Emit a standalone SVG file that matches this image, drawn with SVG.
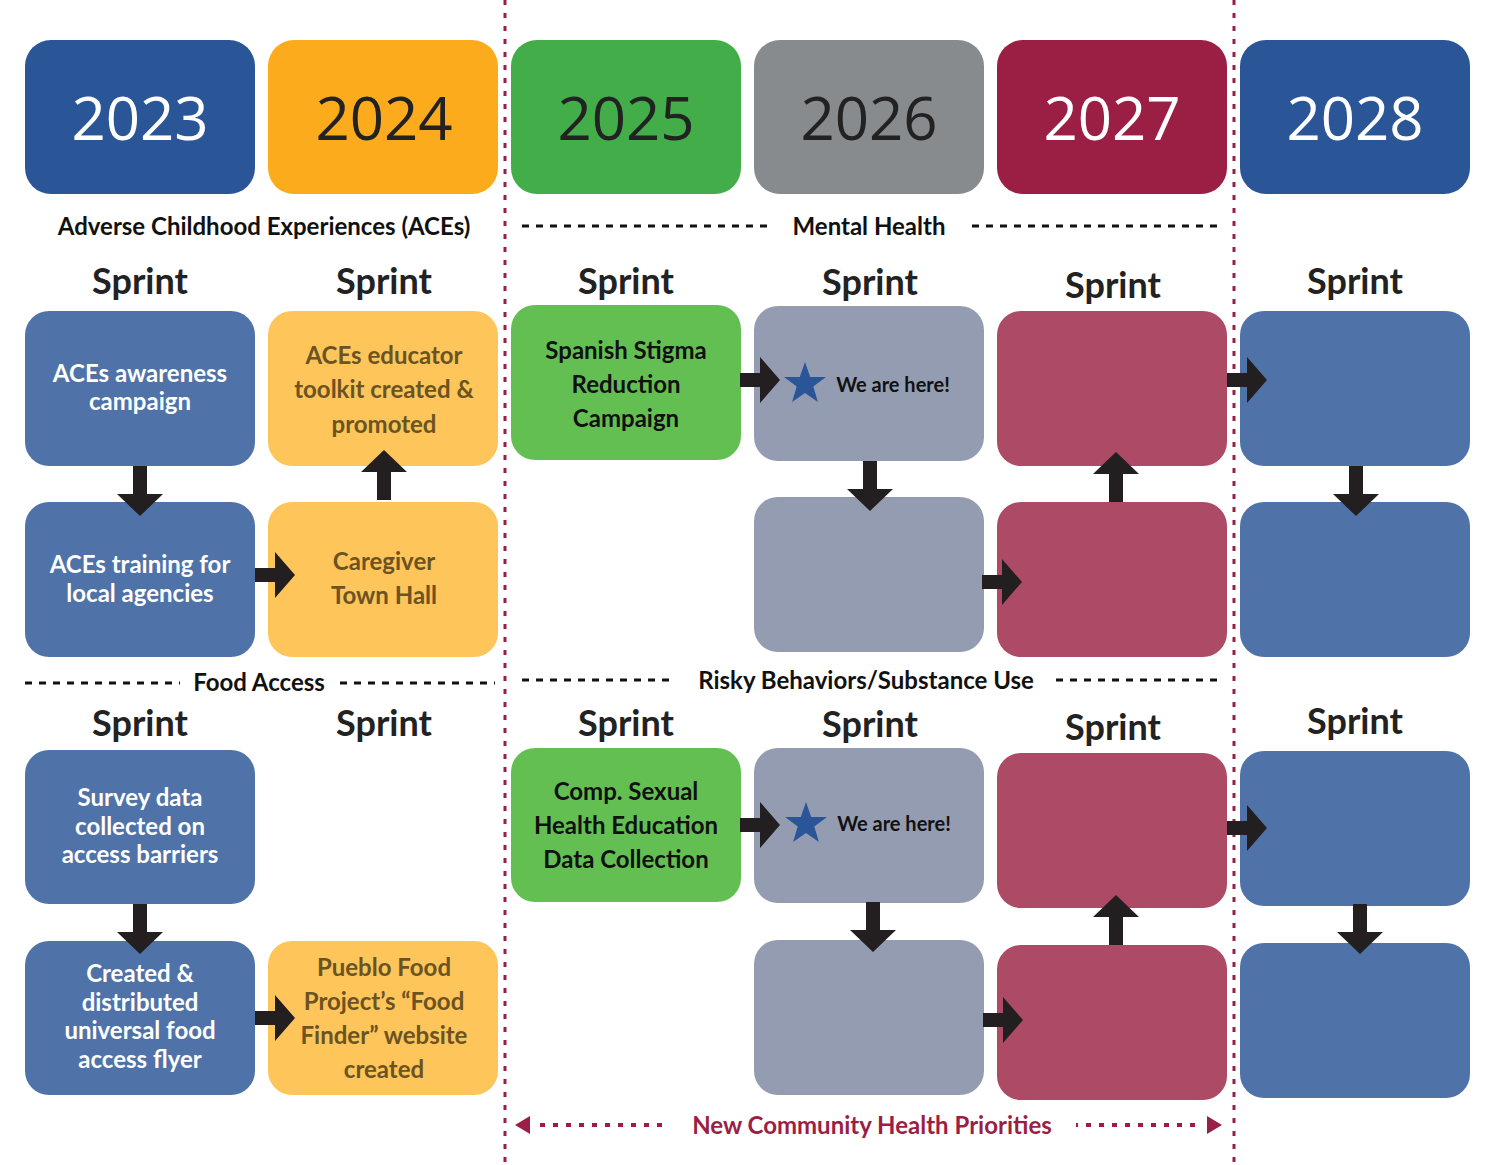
<svg xmlns="http://www.w3.org/2000/svg" width="1493" height="1165" viewBox="0 0 1493 1165">
<style>
text{font-family:Lato,"Open Sans",sans-serif;text-anchor:middle}
.yr{font-size:60px;font-family:"Open Sans",sans-serif}
.lbl{font-size:24px;font-weight:bold;fill:#111}
.sp{font-size:36px;font-weight:bold;fill:#222}
.bt{font-size:24px;font-weight:bold}
.w{fill:#fff}.y{fill:#6b5322}.k{fill:#111}
.dash{stroke:#111;stroke-width:3;stroke-dasharray:7 7;fill:none}
.vd{stroke:#9b1f44;stroke-width:3;stroke-dasharray:5 8;fill:none}
.bl{fill:#4f73a8}.ye{fill:#fdc55a}.gr{fill:#64bf53}.gy{fill:#949cb1}.rd{fill:#ad4a66}
.ar{fill:#231f20}
</style>
<defs>
<path id="ad" d="M-7,0 H7 V28 H23 L0,50 L-23,28 H-7 Z"/>
<path id="ar" d="M0,-7 V7 H20 V23 L40,0 L20,-23 V-7 Z"/>
<polygon id="star" points="0,-22 5.2,-7 21,-7 8.3,2.6 12.9,18 0,9 -12.9,18 -8.3,2.6 -21,-7 -5.2,-7"/>
</defs>
<rect width="1493" height="1165" fill="#fff"/>
<g id="years">
<rect x="25" y="40" width="230" height="154" rx="26" fill="#2a5597"/><text x="140" y="140" class="yr w">2023</text>
<rect x="268" y="40" width="230" height="154" rx="26" fill="#fbab1c"/><text x="384" y="140" class="yr" fill="#222">2024</text>
<rect x="511" y="40" width="230" height="154" rx="26" fill="#43ad4a"/><text x="626" y="140" class="yr" fill="#222">2025</text>
<rect x="754" y="40" width="230" height="154" rx="26" fill="#878b8d"/><text x="869" y="140" class="yr" fill="#222">2026</text>
<rect x="997" y="40" width="230" height="154" rx="26" fill="#9b1f44"/><text x="1112" y="140" class="yr w">2027</text>
<rect x="1240" y="40" width="230" height="154" rx="26" fill="#2a5597"/><text x="1355" y="140" class="yr w">2028</text>
</g>
<g id="labels">
<text x="264" y="235" class="lbl">Adverse Childhood Experiences (ACEs)</text>
<line x1="522" y1="226" x2="768" y2="226" class="dash"/>
<text x="869" y="235" class="lbl">Mental Health</text>
<line x1="972" y1="226" x2="1220" y2="226" class="dash"/>
<line x1="25" y1="683" x2="180" y2="683" class="dash"/>
<text x="259" y="691" class="lbl">Food Access</text>
<line x1="340" y1="683" x2="495" y2="683" class="dash"/>
<line x1="522" y1="680" x2="676" y2="680" class="dash"/>
<text x="866" y="689" class="lbl">Risky Behaviors/Substance Use</text>
<line x1="1056" y1="680" x2="1222" y2="680" class="dash"/>
<text x="140" y="294" class="sp">Sprint</text><text x="384" y="294" class="sp">Sprint</text><text x="626" y="294" class="sp">Sprint</text><text x="870" y="295" class="sp">Sprint</text><text x="1113" y="298" class="sp">Sprint</text><text x="1355" y="294" class="sp">Sprint</text>
<text x="140" y="736" class="sp">Sprint</text><text x="384" y="736" class="sp">Sprint</text><text x="626" y="736" class="sp">Sprint</text><text x="870" y="737" class="sp">Sprint</text><text x="1113" y="740" class="sp">Sprint</text><text x="1355" y="734" class="sp">Sprint</text>
<line x1="505" y1="0" x2="505" y2="1165" class="vd"/>
<line x1="1234" y1="0" x2="1234" y2="1165" class="vd"/>
<line x1="540" y1="1125" x2="1200" y2="1125" class="vd" stroke-dasharray="4 10" style="stroke-width:4"/>
<polygon points="515,1125 530,1116 530,1134" fill="#9b1f44"/>
<polygon points="1222,1125 1207,1116 1207,1134" fill="#9b1f44"/>
<rect x="668" y="1108" width="408" height="34" fill="#fff"/>
<text x="872" y="1134" class="lbl" fill="#9b1f44" style="fill:#9b1f44">New Community Health Priorities</text>
</g>
<g id="n1"><rect x="25" y="311" width="230" height="155" rx="24" class="bl"/><text x="140" y="382" class="bt w">ACEs awareness</text><text x="140" y="410" class="bt w">campaign</text></g>
<g id="n2"><rect x="268" y="311" width="230" height="155" rx="24" class="ye"/><text x="384" y="364" class="bt y">ACEs educator</text><text x="384" y="398" class="bt y">toolkit created &amp;</text><text x="384" y="433" class="bt y">promoted</text></g>
<g id="n3"><rect x="25" y="502" width="230" height="155" rx="24" class="bl"/><text x="140" y="573" class="bt w">ACEs training for</text><text x="140" y="602" class="bt w">local agencies</text></g>
<g id="n4"><rect x="268" y="502" width="230" height="155" rx="24" class="ye"/><text x="384" y="570" class="bt y">Caregiver</text><text x="384" y="604" class="bt y">Town Hall</text></g>
<g id="n5"><rect x="511" y="305" width="230" height="155" rx="24" class="gr"/><text x="626" y="359" class="bt k">Spanish Stigma</text><text x="626" y="393" class="bt k">Reduction</text><text x="626" y="427" class="bt k">Campaign</text></g>
<g id="n6"><rect x="754" y="306" width="230" height="155" rx="24" class="gy"/><use href="#star" x="805" y="384" fill="#2a5597"/><text x="893" y="392" class="k" style="font-size:20px;font-weight:bold">We are here!</text></g>
<g id="n7"><rect x="754" y="497" width="230" height="155" rx="24" class="gy"/></g>
<g id="n8"><rect x="997" y="311" width="230" height="155" rx="24" class="rd"/></g>
<g id="n9"><rect x="997" y="502" width="230" height="155" rx="24" class="rd"/></g>
<g id="n10"><rect x="1240" y="311" width="230" height="155" rx="24" class="bl"/></g>
<g id="n11"><rect x="1240" y="502" width="230" height="155" rx="24" class="bl"/></g>
<g id="n12"><rect x="25" y="750" width="230" height="154" rx="24" class="bl"/><text x="140" y="806" class="bt w">Survey data</text><text x="140" y="835" class="bt w">collected on</text><text x="140" y="863" class="bt w">access barriers</text></g>
<g id="n13"><rect x="25" y="941" width="230" height="154" rx="24" class="bl"/><text x="140" y="982" class="bt w">Created &amp;</text><text x="140" y="1011" class="bt w">distributed</text><text x="140" y="1039" class="bt w">universal food</text><text x="140" y="1068" class="bt w">access flyer</text></g>
<g id="n14"><rect x="268" y="941" width="230" height="154" rx="24" class="ye"/><text x="384" y="976" class="bt y">Pueblo Food</text><text x="384" y="1010" class="bt y">Project’s “Food</text><text x="384" y="1044" class="bt y">Finder” website</text><text x="384" y="1078" class="bt y">created</text></g>
<g id="n15"><rect x="511" y="748" width="230" height="154" rx="24" class="gr"/><text x="626" y="800" class="bt k">Comp. Sexual</text><text x="626" y="834" class="bt k">Health Education</text><text x="626" y="868" class="bt k">Data Collection</text></g>
<g id="n16"><rect x="754" y="748" width="230" height="155" rx="24" class="gy"/><use href="#star" x="806" y="824" fill="#2a5597"/><text x="894" y="831" class="k" style="font-size:20px;font-weight:bold">We are here!</text></g>
<g id="n17"><rect x="754" y="940" width="230" height="155" rx="24" class="gy"/></g>
<g id="n18"><rect x="997" y="753" width="230" height="155" rx="24" class="rd"/></g>
<g id="n19"><rect x="997" y="945" width="230" height="155" rx="24" class="rd"/></g>
<g id="n20"><rect x="1240" y="751" width="230" height="155" rx="24" class="bl"/></g>
<g id="n21"><rect x="1240" y="943" width="230" height="155" rx="24" class="bl"/></g>
<g id="connectors" class="ar">
<use href="#ad" x="140" y="466"/>
<use href="#ad" transform="translate(384,500) scale(1,-1)"/>
<use href="#ar" x="255" y="575"/>
<use href="#ar" x="740" y="380"/>
<use href="#ad" x="870" y="461"/>
<use href="#ar" x="982" y="582"/>
<use href="#ad" transform="translate(1116,502) scale(1,-1)"/>
<use href="#ar" x="1227" y="380"/>
<use href="#ad" x="1356" y="466"/>
<use href="#ad" x="140" y="904"/>
<use href="#ar" x="255" y="1018"/>
<use href="#ar" x="740" y="825"/>
<use href="#ad" x="873" y="902"/>
<use href="#ar" x="983" y="1020"/>
<use href="#ad" transform="translate(1116,945) scale(1,-1)"/>
<use href="#ar" x="1227" y="828"/>
<use href="#ad" x="1360" y="904"/>
</g>
</svg>
